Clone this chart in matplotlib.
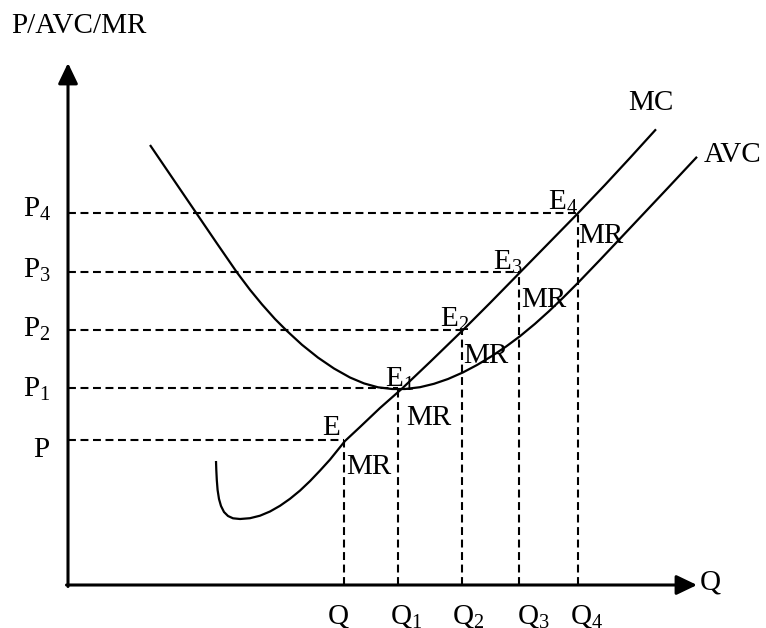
import numpy as np
import matplotlib
matplotlib.use('Agg')
import matplotlib.pyplot as plt

plt.rcParams['font.family'] = ['Liberation Serif', 'DejaVu Serif']
plt.rcParams['mathtext.fontset'] = 'custom'
plt.rcParams['mathtext.rm'] = 'Liberation Serif'
plt.rcParams['mathtext.it'] = 'Liberation Serif'

# 수량 / 가격 수준 (원점 기준)
q_vals = [276, 330, 394, 451, 510]
p_vals = [145, 197, 255, 313, 372]
q_names = ['Q', 'Q$_1$', 'Q$_2$', 'Q$_3$', 'Q$_4$']
p_names = ['P', 'P$_1$', 'P$_2$', 'P$_3$', 'P$_4$']
e_names = ['E', 'E$_1$', 'E$_2$', 'E$_3$', 'E$_4$']

# MC 곡선
mc_x = [148, 148.3, 148.8, 149.6, 151, 153, 156, 160, 165, 172, 182, 192, 202,
        212, 222, 232, 242, 252, 262, 277, 292, 312, 334, 362, 394, 422, 452,
        482, 510, 537, 562, 588]
mc_y = [124, 115, 105, 95, 86, 79, 73, 69, 66.7, 66, 66.8, 69.3, 73.5,
        79.2, 86.2, 94.4, 103.9, 114.4, 125.4, 144, 158, 177, 196.4, 223, 254,
        282, 312.6, 343.2, 371.8, 400.1, 427.1, 455.7]

# AVC 곡선
avc_x = [82, 106, 129, 149, 169, 182, 194, 207, 219, 234, 250, 266, 282, 296,
         310, 324, 337, 352, 366, 380, 395, 409, 423, 438, 452, 467, 481, 495,
         510, 532, 554, 577, 600, 629]
avc_y = [440, 404.7, 370.9, 341.5, 312.5, 295.2, 280.6, 266, 254, 240.2, 227.4,
         216.5, 207.5, 201.6, 197.7, 196, 196, 197.8, 201.2, 206, 212.6, 220,
         228.4, 238.4, 248.8, 261.2, 273.8, 287.2, 302.2, 325.1, 348.4, 372.8,
         397.2, 428.2]

fig = plt.figure(figsize=(7.66, 6.28), dpi=100)
ax = fig.add_axes([0, 0, 1, 1])
ax.set_xlim(-68, 698)
ax.set_ylim(-43, 585)
ax.axis('off')


def px(x, y):
    # 그림 픽셀 위치 -> 축 좌표
    return x - 68, 585 - y


# 축 (화살표)
arrow = dict(arrowstyle='-|>,head_length=1.25,head_width=0.6', lw=2.2,
             color='black', shrinkA=0, shrinkB=0, mutation_scale=10)
ax.annotate('', xy=(0, 522), xytext=(0, -1.5), arrowprops=arrow)
ax.annotate('', xy=(629, 0), xytext=(-1.5, 0), arrowprops=arrow)

# 점선
dash = dict(color='black', lw=1.5, linestyle=(0, (3.8, 2.2)))
for q, p in zip(q_vals, p_vals):
    ax.plot([0, q], [p, p], **dash)
    ax.plot([q, q], [0, p], **dash)

ax.plot(mc_x, mc_y, color='black', lw=1.6, solid_capstyle='butt',
        solid_joinstyle='round')
ax.plot(avc_x, avc_y, color='black', lw=1.6, solid_capstyle='butt',
        solid_joinstyle='round')

fs = 21
txt = dict(fontsize=fs, ha='left', va='baseline', color='black')

ax.text(*px(11, 33), 'P/AVC/MR', **txt)
ax.text(*px(700, 590), 'Q', **txt)
ax.text(*px(628, 110), 'MC', **txt)
ax.text(*px(704, 162), 'AVC', **txt)

p_pos = [(33, 457), (23, 397), (23, 337), (23, 278), (23, 217)]
q_pos = [(328, 623), (390, 623), (452, 623), (517, 623), (570, 623)]
e_pos = [(322, 435), (385, 387), (440, 327), (493, 270), (548, 210)]
mr_pos = [(346, 474), (406, 425), (463, 363), (521, 307), (578, 243)]

for i in range(5):
    ax.text(*px(*p_pos[i]), p_names[i], **txt)
    ax.text(*px(*q_pos[i]), q_names[i], **txt)
    ax.text(*px(*e_pos[i]), e_names[i], **txt)
    ax.text(*px(*mr_pos[i]), 'MR', **txt)

fig.savefig('out.png', dpi=100)
